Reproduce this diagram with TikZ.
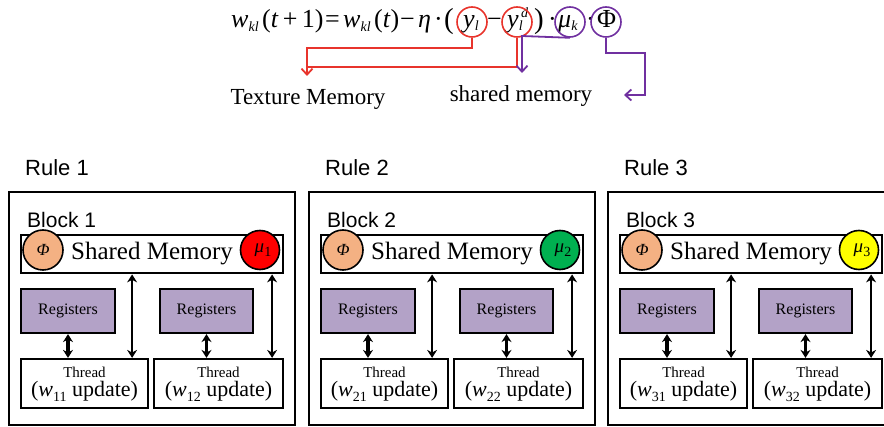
\documentclass[tikz,border=0pt]{standalone}
\usepackage{fontspec}
\setmainfont{Liberation Serif}
\newfontfamily\arialf{Liberation Sans}
\usetikzlibrary{arrows.meta}
\definecolor{eqred}{RGB}{232,52,44}
\definecolor{eqpurple}{RGB}{112,48,160}
\definecolor{phifill}{RGB}{244,177,131}
\definecolor{regfill}{RGB}{179,162,199}
\definecolor{muRed}{RGB}{255,0,0}
\definecolor{muGreen}{RGB}{0,176,80}
\definecolor{muYellow}{RGB}{255,255,0}
\newcommand\fsz[1]{\fontsize{#1}{#1}\selectfont}
\newcommand\lowsub[2]{\raisebox{-#1}{\fsz{14}#2}}
\begin{document}
\begin{tikzpicture}[x=1pt,y=-1pt,
  eqtxt/.style={inner sep=0pt, anchor=base west, font=\fsz{26}},
  ring/.style={circle, draw, line width=1.6pt, minimum size=30pt, inner sep=0pt},
  conn/.style={line width=1.8pt, -{Straight Barb[length=6pt,width=11pt]}},
  outerbox/.style={draw, line width=2.2pt, minimum width=286pt, minimum height=233pt, inner sep=0pt},
  smbox/.style={draw, line width=2.8pt, minimum width=262pt, minimum height=38pt, inner sep=0pt, font=\fsz{25}},
  regbox/.style={draw, line width=2.2pt, fill=regfill, minimum height=44pt, inner sep=0pt, font=\fsz{16}},
  thrbox/.style={draw, line width=2.2pt, minimum height=49pt, inner sep=0pt},
  phic/.style={circle, draw, line width=1.6pt, fill=phifill, minimum size=40pt, inner sep=0pt, font=\fsz{17}},
  muc/.style={circle, draw, line width=1.6pt, minimum size=39pt, inner sep=0pt, font=\fsz{19}},
  dbl/.style={line width=2.6pt, {Stealth[length=8pt,width=10pt]}-{Stealth[length=8pt,width=10pt]}},
  lbl/.style={inner sep=0pt}
]
\useasboundingbox (0,0) rectangle (884,427);
\clip (0,0) rectangle (884,427);
% ---------- equation ----------
\node[eqtxt] (ew1) at (231,28) {\textit{w}\lowsub{4pt}{\textit{kl}}};
\node[eqtxt] (ep1) at (262,28) {(\textit{t}\,+\,1)};
\node[eqtxt] (eq1) at (325,28) {=};
\node[eqtxt] (ew2) at (343,28) {\textit{w}\lowsub{4pt}{\textit{kl}}};
\node[eqtxt] (ep2) at (374,28) {(\textit{t})};
\node[eqtxt] (em1) at (400,28) {−};
\node[eqtxt] (eeta) at (418,28) {\textit{η}};
\node[eqtxt] (ed1) at (434,28) {·};
\node[eqtxt, font=\fsz{29}] (eo) at (444,29) {(};
\node[eqtxt] (eyl) at (463,28) {\textit{y}\lowsub{3pt}{\textit{l}}};
\node[eqtxt] (em2) at (487,28) {−};
\node[eqtxt] (eyd) at (507,28) {\textit{y}\makebox[0pt][l]{\lowsub{3pt}{\textit{l}}}\raisebox{10pt}{\fsz{14}\textit{\,d}}};
\node[eqtxt, font=\fsz{29}] (ec) at (534,29) {)};
\node[eqtxt] (ed2) at (548,28) {·};
\node[eqtxt] (emu) at (558,28) {\textit{μ}\lowsub{3pt}{\textit{k}}};
\node[eqtxt] (ed3) at (586,28) {·};
\node[eqtxt] (ephi) at (597,28) {Φ};
\node[ring, draw=eqred] (cyl) at (472,22) {};
\node[ring, draw=eqred] (cyd) at (517,22) {};
\node[ring, draw=eqpurple] (cmu) at (570,22) {};
\node[ring, draw=eqpurple] (cphi) at (606,22) {};
\coordinate (tmTip) at (307,76);
\coordinate (smTip) at (522,73);
\coordinate (phTip) at (624,95);
\draw[conn, eqred] (cyl.south) |- (307,48) -- (tmTip);
\draw[line width=1.8pt, eqred] (cyd.south) |- (307,67);
\draw[conn, eqpurple] (cmu.south) -- (522,36) -- (smTip);
\draw[conn, eqpurple] (cphi.south) |- (645,53) |- (phTip);
\node[font=\fsz{23}, inner sep=0pt] (tm) at (308,99) {Texture Memory};
\node[font=\fsz{23}, inner sep=0pt] (sml) at (521,96) {shared memory};
% ---------- blocks ----------
\foreach \i/\dx/\col in {1/0/muRed,2/300/muGreen,3/599/muYellow}{
\begin{scope}[xshift=\dx]
  \node[anchor=west, font=\arialf\fsz{22}, inner sep=0pt] (rule\i) at (25,168) {Rule \i};
  \node[outerbox] (outer\i) at (152,308.5) {};
  \node[anchor=west, font=\arialf\fsz{21}, inner sep=0pt] (blk\i) at (27,220) {Block \i};
  \node[smbox] (sm\i) at (152,254) {Shared Memory};
  \node[phic] (phi\i) at (43,250) {\textit{Φ}};
  \node[muc, fill=\col] (mu\i) at (260,250) {\hspace{6pt}\textit{μ}\lowsub{4pt}{\i}};
  \node[regbox, minimum width=94pt] (regA\i) at (68,311) {Registers};
  \node[regbox, minimum width=93pt] (regB\i) at (206.5,311) {Registers};
  \node[thrbox, minimum width=127pt] (thrA\i) at (84.5,383.5) {};
  \node[thrbox, minimum width=129pt] (thrB\i) at (218.5,383.5) {};
  \node[lbl, font=\fsz{15}] (ttA\i) at (84.5,372) {Thread};
  \node[lbl, font=\fsz{22}] (tuA\i) at (84.5,391) {(\textit{w}\lowsub{5pt}{\i1} update)};
  \node[lbl, font=\fsz{15}] (ttB\i) at (218.5,372) {Thread};
  \node[lbl, font=\fsz{22}] (tuB\i) at (218.5,391) {(\textit{w}\lowsub{5pt}{\i2} update)};
  \draw[dbl, line width=3.2pt] (regA\i.south) -- (regA\i.south |- thrA\i.north);
  \draw[dbl, line width=3.2pt] (regB\i.south) -- (regB\i.south |- thrB\i.north);
  \draw[dbl] ([xshift=-17pt]thrA\i.north east) -- ([xshift=-17pt]thrA\i.north east |- sm\i.south);
  \draw[dbl] ([xshift=-12pt]thrB\i.north east) -- ([xshift=-12pt]thrB\i.north east |- sm\i.south);
\end{scope}}
\end{tikzpicture}
\end{document}
